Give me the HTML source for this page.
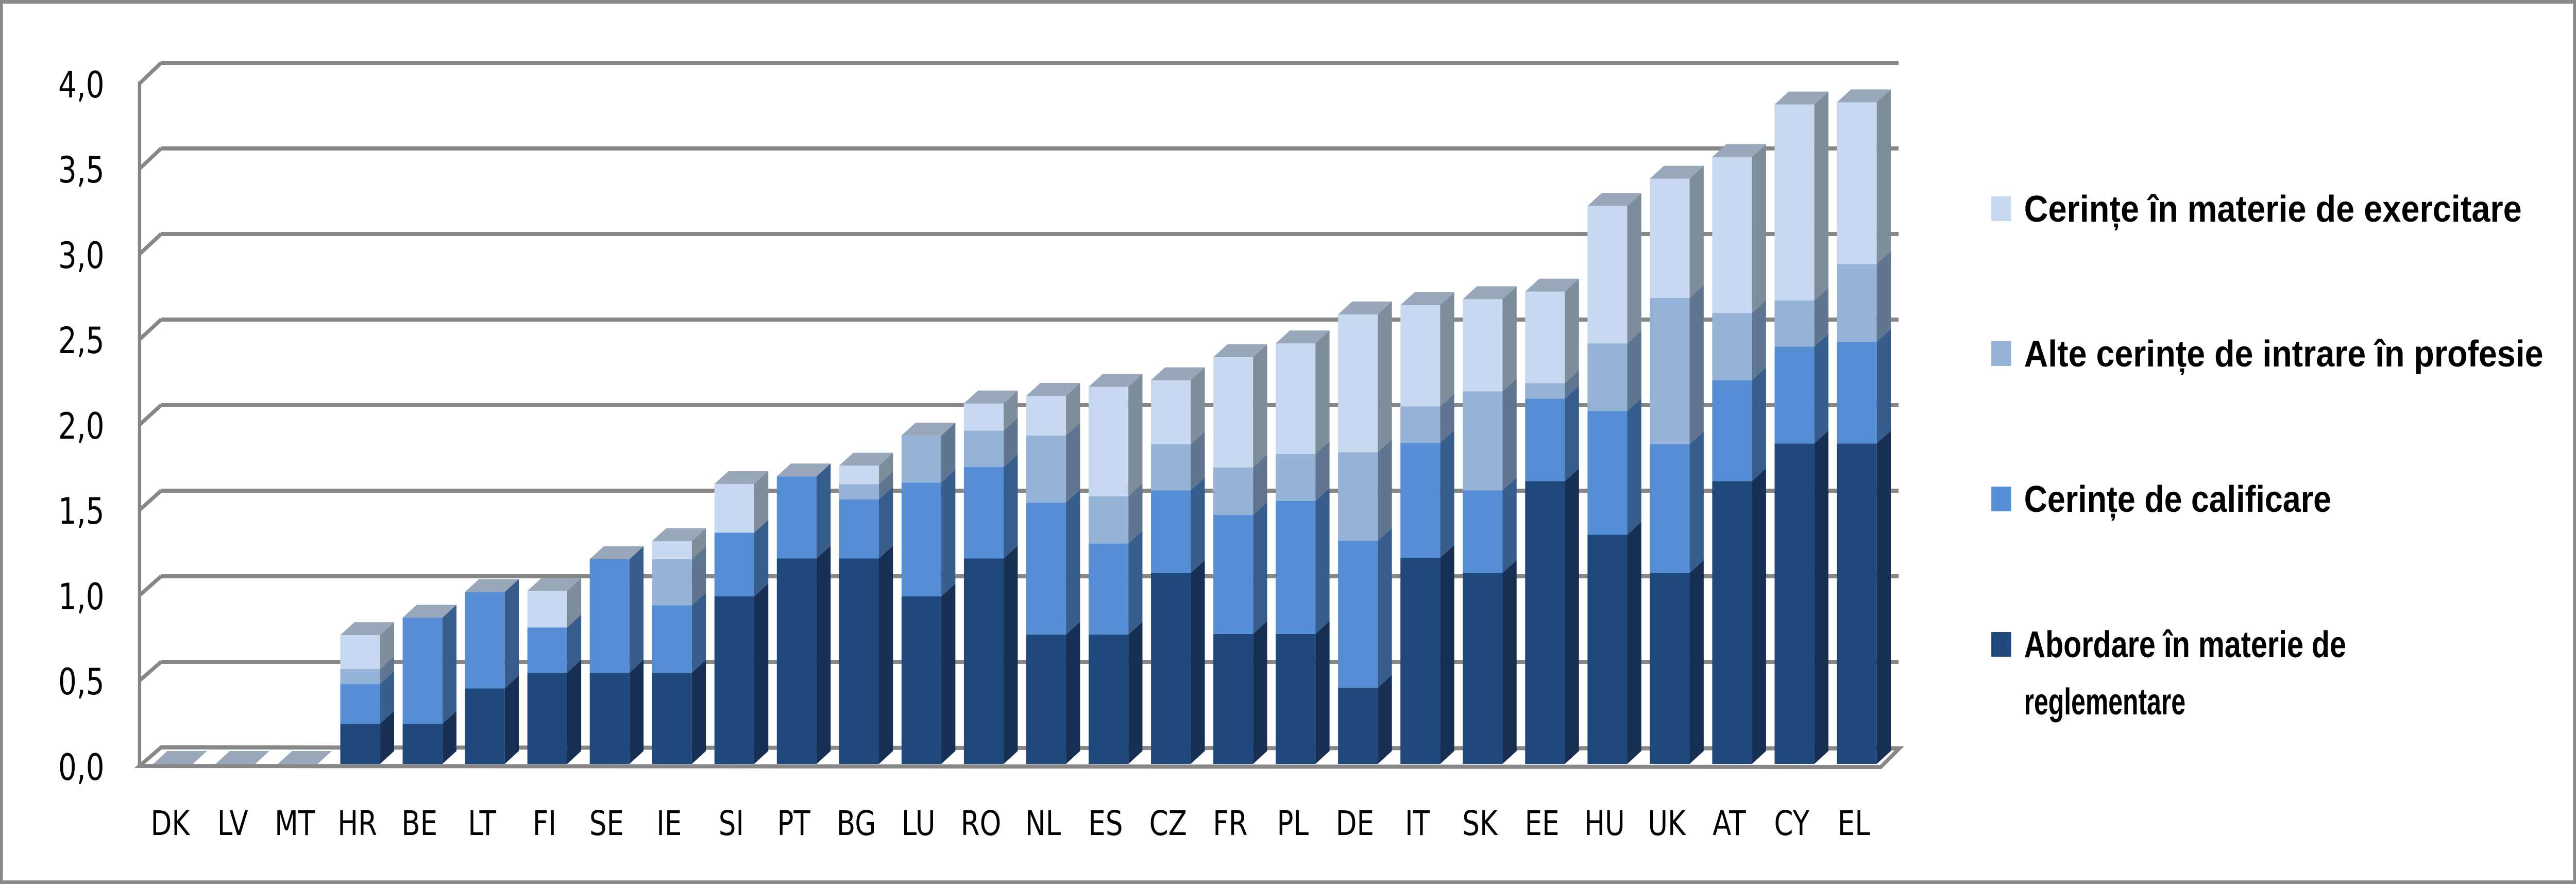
<!DOCTYPE html>
<html><head><meta charset="utf-8"><style>
html,body{margin:0;padding:0;background:#fff;width:100%;height:100%;overflow:hidden;}
svg{display:block;width:100vw;height:100vh;}
</style></head><body>
<svg id="s" viewBox="0 0 6221 1715" preserveAspectRatio="none" xmlns="http://www.w3.org/2000/svg">
<rect x="0" y="0" width="6221" height="1715" fill="#fff"/>
<rect x="3.5" y="3.5" width="6214" height="1708" fill="none" stroke="#898989" stroke-width="7"/>
<g id="grid" stroke="#878787" stroke-width="8" fill="none"></g>
<g id="bars"></g>
<g font-family="'DejaVu Sans', 'Liberation Sans', sans-serif" font-size="70" fill="#000" text-anchor="end">
<text x="252" y="189">4,0</text>
<text x="252" y="354">3,5</text>
<text x="252" y="520">3,0</text>
<text x="252" y="685">2,5</text>
<text x="252" y="851">2,0</text>
<text x="252" y="1016">1,5</text>
<text x="252" y="1182">1,0</text>
<text x="252" y="1347">0,5</text>
<text x="252" y="1513">0,0</text>
</g>
<g id="cats" font-family="'DejaVu Sans', 'Liberation Sans', sans-serif" font-size="66" fill="#000" text-anchor="middle">
<text x="411" y="1620">DK</text>
<text x="562" y="1620">LV</text>
<text x="712" y="1620">MT</text>
<text x="863" y="1620">HR</text>
<text x="1013" y="1620">BE</text>
<text x="1164" y="1620">LT</text>
<text x="1315" y="1620">FI</text>
<text x="1465" y="1620">SE</text>
<text x="1616" y="1620">IE</text>
<text x="1766" y="1620">SI</text>
<text x="1917" y="1620">PT</text>
<text x="2068" y="1620">BG</text>
<text x="2218" y="1620">LU</text>
<text x="2369" y="1620">RO</text>
<text x="2519" y="1620">NL</text>
<text x="2670" y="1620">ES</text>
<text x="2821" y="1620">CZ</text>
<text x="2971" y="1620">FR</text>
<text x="3122" y="1620">PL</text>
<text x="3272" y="1620">DE</text>
<text x="3423" y="1620">IT</text>
<text x="3574" y="1620">SK</text>
<text x="3724" y="1620">EE</text>
<text x="3875" y="1620">HU</text>
<text x="4025" y="1620">UK</text>
<text x="4176" y="1620">AT</text>
<text x="4327" y="1620">CY</text>
<text x="4477" y="1620">EL</text>
</g>
<g font-family="'Liberation Sans', sans-serif" font-weight="bold" font-size="72" fill="#000">
<rect x="4809" y="381" width="48" height="48" fill="#C6D9F1"/>
<text x="4888" y="430" textLength="1202" lengthAdjust="spacingAndGlyphs">Cerințe în materie de exercitare</text>
<rect x="4809" y="662" width="48" height="48" fill="#95B3D7"/>
<text x="4888" y="711" textLength="1254" lengthAdjust="spacingAndGlyphs">Alte cerințe de intrare în profesie</text>
<rect x="4809" y="944" width="48" height="48" fill="#558ED5"/>
<text x="4888" y="993" textLength="742" lengthAdjust="spacingAndGlyphs">Cerințe de calificare</text>
<rect x="4809" y="1226" width="48" height="48" fill="#1F497D"/>
<text x="4888" y="1275" textLength="778" lengthAdjust="spacingAndGlyphs">Abordare în materie de</text>
<text x="4888" y="1386" textLength="390" lengthAdjust="spacingAndGlyphs">reglementare</text>
</g>
</svg>
<script>
(function(){
var NS="http://www.w3.org/2000/svg";
function el(p,t,a){var e=document.createElementNS(NS,t);for(var k in a)e.setAttribute(k,a[k]);p.appendChild(e);return e;}
var g=document.getElementById('grid');
for(var v=0;v<=8;v++){
  var val=v*0.5;
  var yb=1450-332*val, yf=1486-331*val;
  if(v>0) el(g,'line',{x1:389,y1:yb,x2:4585,y2:yb});
  el(g,'line',{x1:337,y1:yf,x2:389,y2:yb});
}
el(g,'line',{x1:337,y1:158,x2:337,y2:1490});
el(g,'polygon',{points:"337,1486 4542,1488 4587,1452 389,1450",fill:"#fff"});
var data=[
[0,0,0,0],[0,0,0,0],[0,0,0,0],
[0.235,0.468,0.556,0.755],
[0.235,0.857,0.857,0.857],
[0.443,1.008,1.008,1.008],
[0.534,0.80,0.80,1.014],
[0.534,1.20,1.20,1.20],
[0.534,0.93,1.20,1.306],
[0.982,1.355,1.355,1.641],
[1.204,1.685,1.685,1.685],
[1.204,1.55,1.64,1.748],
[0.982,1.649,1.925,1.925],
[1.204,1.74,1.954,2.113],
[0.758,1.532,1.925,2.157],
[0.758,1.292,1.569,2.21],
[1.119,1.603,1.873,2.249],
[0.762,1.459,1.738,2.384],
[0.762,1.541,1.816,2.465],
[0.446,1.308,1.827,2.635],
[1.208,1.881,2.095,2.689],
[1.119,1.603,2.184,2.724],
[1.657,2.141,2.232,2.768],
[1.343,2.068,2.465,3.27],
[1.119,1.873,2.732,3.43],
[1.657,2.249,2.643,3.557],
[1.878,2.446,2.716,3.865],
[1.878,2.473,2.93,3.878]];
var front=["#1F497D","#558ED5","#95B3D7","#C6D9F1"];
var side=["#162F52","#365D8C","#60758F","#7F8D9B"];
var b=document.getElementById('bars');
var W=96,DX=34,DY=25,Y0=1482,S=331;
for(var i=0;i<data.length;i++){
  var x=370+i*150.6;
  var prev=0;
  for(var k=0;k<4;k++){
    var c=data[i][k];
    if(c-prev>0.001){
      var yb=Y0-S*prev, yt=Y0-S*c;
      el(b,'rect',{x:x,y:yt,width:W,height:yb-yt,fill:front[k]});
      el(b,'polygon',{points:(x+W)+","+yb+" "+(x+W)+","+yt+" "+(x+W+DX)+","+(yt-DY)+" "+(x+W+DX)+","+(yb-DY),fill:side[k]});
    }
    prev=Math.max(prev,c);
  }
  var yt2=Y0-S*prev;
  el(b,'polygon',{points:x+","+yt2+" "+(x+W)+","+yt2+" "+(x+W+DX)+","+(yt2-DY)+" "+(x+DX)+","+(yt2-DY),fill:"#98A7BA"});
}
})();
</script>
</body></html>
